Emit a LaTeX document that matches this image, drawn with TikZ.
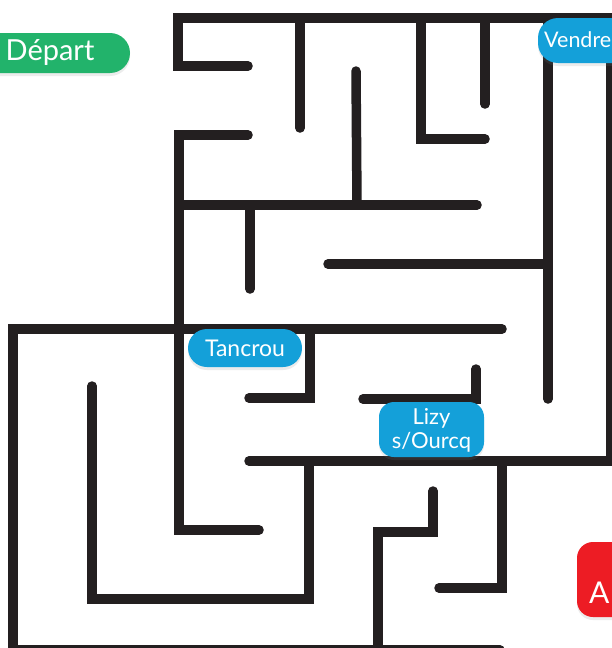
\documentclass[tikz,border=0pt]{standalone}
\usepackage{fontspec}
\setmainfont{Lato}
\usetikzlibrary{shadows}
\definecolor{wall}{HTML}{231F20}
\definecolor{vert}{HTML}{22B36B}
\definecolor{bleu}{HTML}{14A0D9}
\definecolor{rouge}{HTML}{ED1C24}
\begin{document}
\begin{tikzpicture}[x=1pt,y=-1pt,
  wallline/.style={draw=wall,line width=9.5pt,line cap=round,line join=miter},
  tagbox/.style={rectangle,draw=none,inner sep=0pt,
    drop shadow={opacity=0.15,shadow xshift=0pt,shadow yshift=-3pt}},
  tagtext/.style={text=white,inner sep=0pt}]
\useasboundingbox[fill=white] (0,0) rectangle (612,648);

% walls
\draw[wallline] (248,66) -- (178,66) -- (178,18) -- (615,18);
\draw[wallline] (300,18) -- (300,128);
\draw[wallline] (248,135) -- (179,135) -- (179,530) -- (259,530);
\draw[wallline] (179,205) -- (477,205);
\draw[wallline] (250,205) -- (250,289);
\draw[wallline] (356,71) -- (357,205);
\draw[wallline] (421,18) -- (421,139) -- (485,139);
\draw[wallline] (485,18) -- (485,104);
\draw[wallline] (548,18) -- (548,399);
\draw[wallline] (328,264) -- (548,264);
\draw[wallline] (611,18) -- (611,461);
\draw[wallline] (249,461) -- (615,461);
\draw[wallline] (502,329) -- (13,329) -- (13,650) -- (500,650);
\draw[wallline] (310,329) -- (310,398) -- (249,398);
\draw[wallline] (363,399) -- (476,399) -- (476,369);
\draw[wallline] (92,386) -- (92,599) -- (309,599) -- (309,461);
\draw[wallline] (502,461) -- (502,588) -- (439,588);
\draw[wallline] (433,491) -- (433,532) -- (378,532) -- (378,650);

% labels
\node[tagbox,fill=vert,rounded corners=20pt,minimum width=170pt,minimum height=40pt] (departbox) at (45,53) {};
\node[tagtext,font=\fontsize{29}{30}\selectfont] (depart) at (50,52) {Départ};

\node[tagbox,fill=bleu,rounded corners=20pt,minimum width=140pt,minimum height=45pt] (vendrebox) at (608,40.5) {};
\node[tagtext,anchor=base west,font=\fontsize{21.5}{23}\selectfont] (vendre) at (544,47) {Vendre};

\node[tagbox,fill=bleu,rounded corners=19pt,minimum width=114pt,minimum height=38pt] (tancroubox) at (245,348) {};
\node[tagtext,font=\fontsize{23}{24}\selectfont] (tancrou) at (245,348) {Tancrou};

\node[tagbox,fill=bleu,rounded corners=15pt,minimum width=105pt,minimum height=55pt] (lizybox) at (431.5,429.5) {};
\node[tagtext,align=center,font=\fontsize{22}{24}\selectfont] (lizy) at (431.5,430) {Lizy\\s/Ourcq};

\node[tagbox,fill=rouge,rounded corners=16pt,minimum width=90pt,minimum height=75pt] (arriveebox) at (622,579.5) {};
\node[tagtext,anchor=base west,font=\fontsize{30}{31}\selectfont] (arrivee) at (589,603) {A};
\end{tikzpicture}
\end{document}
